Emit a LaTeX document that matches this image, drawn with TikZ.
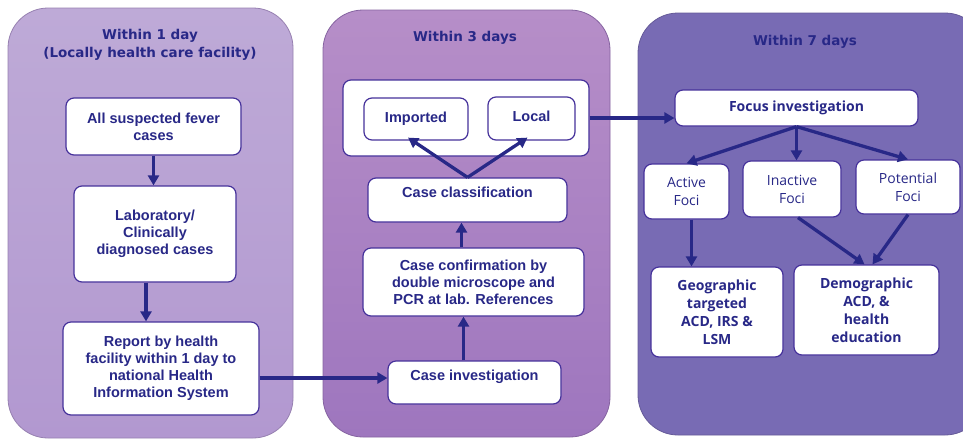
\documentclass[tikz,border=0pt]{standalone}
\usepackage{fontspec}
\setmainfont{Liberation Sans}
\newfontfamily\titlefont{DejaVu Sans}
\newfontfamily\focifont{Open Sans}
\usetikzlibrary{arrows.meta}

\definecolor{ink}{RGB}{40,40,135}
\definecolor{boxline}{RGB}{70,50,155}
\definecolor{dayone}{RGB}{190,170,215}
\definecolor{dayonelow}{RGB}{178,152,208}
\definecolor{daythree}{RGB}{182,142,200}
\definecolor{daythreelow}{RGB}{158,118,190}
\definecolor{dayseven}{RGB}{120,107,180}

\tikzset{
  box/.style={draw=boxline, line width=1.2pt, fill=white, rounded corners=8pt,
    align=center, inner sep=0pt, text=ink,
    font=\bfseries\fontsize{14.5}{17}\selectfont},
  fbox/.style={box, font=\focifont\fontsize{14}{18}\selectfont},
  gbox/.style={box, font=\focifont\bfseries\fontsize{14}{18}\selectfont},
  flow/.style={draw=ink, line width=3.3pt, -{Triangle[length=10pt,width=11pt]}},
  title/.style={text=ink, align=center,
    font=\titlefont\bfseries\fontsize{13.5}{18}\selectfont},
  panel/.style={rounded corners=40pt, line width=0.8pt}
}

\begin{document}
\begin{tikzpicture}[x=1pt,y=-1pt]
\clip (0,0) rectangle (963,440);
\fill[white] (0,0) rectangle (963,440);

% panels
\draw[panel, draw=dayonelow!85!black, top color=dayone, bottom color=dayonelow] (8,8) rectangle (293,438);
\draw[panel, draw=daythreelow!85!black, top color=daythree, bottom color=daythreelow] (323,10) rectangle (610,437);
\draw[panel, draw=dayseven!85!black, fill=dayseven] (638,13) rectangle (985,435);

% within 1 day
\node[title] (t1) at (150,45) {Within 1 day\\(Locally health care facility)};
\node[box, minimum width=175pt, minimum height=57pt] (suspect) at (153.5,126.5) {All suspected fever\\cases};
\node[box, minimum width=162pt, minimum height=96pt] (diag) at (155,234) {Laboratory/\\Clinically\\diagnosed cases};
\node[box, minimum width=196pt, minimum height=93pt] (report) at (161,368.5) {Report by health\\facility within 1 day to\\national Health\\Information System};

\draw[flow] (suspect.south) -- (suspect.south |- diag.north);
\draw[flow] ([xshift=-9pt]diag.south) -- ([xshift=-9pt]diag.south |- report.north);

% within 3 days
\node[title] (t2) at (465,38) {Within 3 days};
\node[box, minimum width=246pt, minimum height=76pt] (cls) at (466,118) {};
\node[box, minimum width=104pt, minimum height=42pt] (imp) at (416,119) {\raisebox{4pt}{Imported}};
\node[box, minimum width=87pt, minimum height=43pt] (loc) at (531.5,118.5) {\raisebox{5pt}{Local}};
\node[box, minimum width=199pt, minimum height=44pt] (ccl) at (467.5,200) {Case classification\\[-2pt]\mbox{}};
\node[box, minimum width=221pt, minimum height=68pt] (conf) at (473.5,282) {Case confirmation by\\double microscope and\\PCR at lab. References};
\node[box, minimum width=173pt, minimum height=43pt] (caseinv) at (474.5,382.5) {Case investigation\\[-2pt]\mbox{}};

\draw[flow] ([yshift=4.5pt]caseinv.west -| report.east) -- ([yshift=4.5pt]caseinv.west);
\draw[flow] ([xshift=-11pt]caseinv.north) -- ([xshift=-11pt]caseinv.north |- conf.south);
\draw[flow] ([xshift=-12pt]conf.north) -- ([xshift=-12pt]conf.north |- ccl.south);
\draw[flow] (ccl.north) -- ([xshift=-8pt,yshift=3pt]imp.south);
\draw[flow] (ccl.north) -- ([xshift=-4pt,yshift=3pt]loc.south);

% within 7 days
\node[title] (t3) at (805,42) {Within 7 days};
\node[gbox, font=\focifont\bfseries\fontsize{14}{16}\selectfont, minimum width=243pt, minimum height=36pt] (focus) at (796.5,108) {Focus investigation};
\node[fbox, minimum width=85pt, minimum height=55pt] (active) at (686.5,191.5) {Active\\Foci};
\node[fbox, minimum width=98pt, minimum height=56pt] (inactive) at (792,189) {Inactive\\Foci};
\node[fbox, minimum width=104pt, minimum height=54pt] (potential) at (908,187) {Potential\\Foci};
\node[gbox, minimum width=132pt, minimum height=90pt] (geo) at (717,312) {Geographic\\targeted\\ACD, IRS \&\\LSM};
\node[gbox, minimum width=145pt, minimum height=90pt] (demo) at (866.5,310) {Demographic\\ACD, \&\\health\\education};

\draw[flow] (cls.east) -- (cls.east -| focus.west);
\draw[flow] (focus.south) -- (active.north);
\draw[flow] (focus.south) -- (focus.south |- inactive.north);
\draw[flow] (focus.south) -- (potential.north);
\draw[flow] ([xshift=5pt]active.south) -- ([xshift=5pt]active.south |- geo.north);
\draw[flow] ([xshift=6pt]inactive.south) -- ([xshift=-2pt]demo.north);
\draw[flow] (potential.south) -- ([xshift=6pt]demo.north);

\end{tikzpicture}
\end{document}
